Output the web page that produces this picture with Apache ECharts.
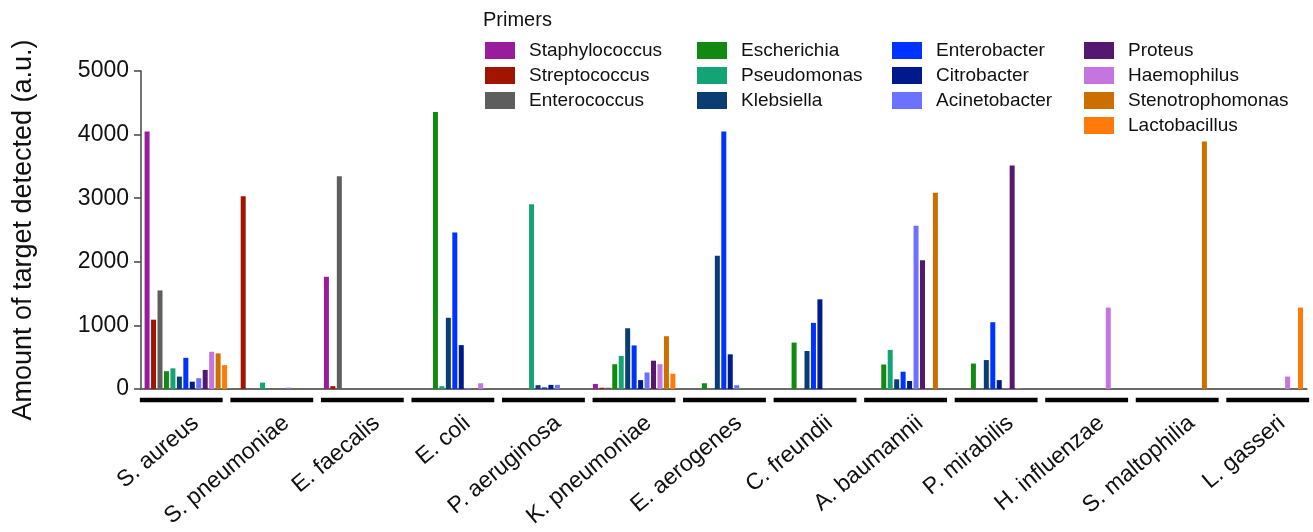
<!DOCTYPE html>
<html>
<head>
<meta charset="utf-8">
<script src="https://cdn.jsdelivr.net/npm/echarts@6/dist/echarts.min.js"></script>
<style>
html,body{margin:0;padding:0;background:#fff;}
#chart{width:1313px;height:532px;}
</style>
</head>
<body>
<div id="chart"></div>
<script>
const categories = ['S. aureus','S. pneumoniae','E. faecalis','E. coli','P. aeruginosa','K. pneumoniae','E. aerogenes','C. freundii','A. baumannii','P. mirabilis','H. influenzae','S. maltophilia','L. gasseri'];
const yTicks = [0, 1000, 2000, 3000, 4000, 5000];

const primerNames = ['Staphylococcus','Streptococcus','Enterococcus','Escherichia','Pseudomonas','Klebsiella','Enterobacter','Citrobacter','Acinetobacter','Proteus','Haemophilus','Stenotrophomonas','Lactobacillus'];
const primerColors = ['#991c9c','#a01400','#5e5e5e','#128a12','#14a374','#0a3d73','#0033ff','#001a8c','#6b72ff','#54186e','#c674e0','#cc6e00','#ff7a0a'];

const staphylococcus   = [4050, 0, 1765, 0, 0, 80, 0, 0, 0, 0, 0, 0, 0];
const streptococcus    = [1090, 3030, 45, 0, 0, 20, 0, 0, 0, 0, 0, 0, 0];
const enterococcus     = [1550, 0, 3345, 0, 0, 20, 0, 0, 0, 0, 0, 0, 0];
const escherichia      = [280, 0, 0, 4355, 0, 390, 90, 730, 385, 400, 0, 0, 0];
const pseudomonas      = [325, 100, 0, 45, 2905, 520, 0, 0, 615, 0, 0, 0, 0];
const klebsiella       = [195, 0, 0, 1120, 60, 955, 2095, 597, 152, 455, 0, 0, 0];
const enterobacter     = [490, 0, 0, 2460, 25, 685, 4050, 1040, 272, 1050, 0, 0, 0];
const citrobacter      = [115, 0, 0, 690, 65, 140, 545, 1410, 126, 140, 0, 0, 0];
const acinetobacter    = [170, 20, 0, 15, 65, 260, 60, 10, 2565, 10, 0, 0, 0];
const proteus          = [300, 0, 0, 0, 0, 445, 0, 0, 2025, 3515, 0, 0, 0];
const haemophilus      = [585, 0, 0, 90, 0, 390, 0, 0, 0, 10, 1280, 0, 195];
const stenotrophomonas = [560, 0, 0, 0, 0, 830, 0, 0, 3085, 0, 0, 3890, 0];
const lactobacillus    = [375, 0, 0, 0, 0, 240, 0, 0, 0, 0, 0, 0, 1280];

const seriesValues = [staphylococcus, streptococcus, enterococcus, escherichia, pseudomonas, klebsiella, enterobacter, citrobacter, acinetobacter, proteus, haemophilus, stenotrophomonas, lactobacillus];

const FONT = 'Liberation Sans, Arial, Helvetica, sans-serif';
const chart = echarts.init(document.getElementById('chart'), null, {renderer: 'canvas'});

const barSeries = primerNames.map((n, i) => ({
  name: n,
  type: 'bar',
  xAxisIndex: 0,
  yAxisIndex: 0,
  data: seriesValues[i],
  itemStyle: {color: primerColors[i]},
  barGap: '29%',
  barCategoryGap: '8%',
  silent: true
}));

const segSeries = {
  name: 'groupSegments',
  type: 'custom',
  xAxisIndex: 1,
  yAxisIndex: 1,
  clip: false,
  silent: true,
  data: categories.map((c, i) => [i, 0]),
  renderItem: function (params, api) {
    const c = api.coord([api.value(0), 0]);
    const w = api.size([1, 0])[0] * 0.915;
    return {
      type: 'line',
      shape: {x1: c[0] - w / 2, y1: c[1] + 11, x2: c[0] + w / 2, y2: c[1] + 11},
      style: {stroke: '#000', lineWidth: 4.5}
    };
  }
};

function legendCol(names, left) {
  return {
    orient: 'vertical',
    left: left,
    top: 41,
    padding: 0,
    itemWidth: 30,
    itemHeight: 17,
    itemGap: 6,
    icon: 'rect',
    selectedMode: false,
    data: names,
    textStyle: {fontFamily: FONT, fontSize: 19, color: '#111', lineHeight: 17, padding: [0, 0, 0, 9]}
  };
}

const option = {
  animation: false,
  backgroundColor: '#fff',
  title: {
    text: 'Primers',
    left: 483,
    top: 10,
    padding: 0,
    textStyle: {fontFamily: FONT, fontSize: 20, fontWeight: 'normal', color: '#111'}
  },
  legend: [
    legendCol(primerNames.slice(0, 3), 485),
    legendCol(primerNames.slice(3, 6), 697),
    legendCol(primerNames.slice(6, 9), 892),
    legendCol(primerNames.slice(9, 13), 1084)
  ],
  grid: [
    {left: 141, right: 6.4, top: 71, bottom: 143},
    {left: 136, right: -2, top: 71, bottom: 143}
  ],
  xAxis: [
    {
      type: 'category', gridIndex: 0, data: categories,
      axisLine: {show: true, lineStyle: {color: '#6a6a6a', width: 2}},
      axisTick: {show: false},
      axisLabel: {show: false},
      splitLine: {show: false}
    },
    {
      type: 'category', gridIndex: 1, data: categories,
      axisLine: {show: false},
      axisTick: {show: false},
      splitLine: {show: false},
      axisLabel: {
        show: true, interval: 0, rotate: 40, margin: 14,
        fontFamily: FONT, fontSize: 23, color: '#111',
        verticalAlign: 'top', padding: [11, 0, 0, 0]
      }
    }
  ],
  yAxis: [
    {
      type: 'value', gridIndex: 0, min: 0, max: 5000, interval: 1000,
      name: 'Amount of target detected (a.u.)',
      nameLocation: 'middle', nameGap: 104,
      nameTextStyle: {fontFamily: FONT, fontSize: 27, color: '#111'},
      axisLine: {show: true, lineStyle: {color: '#444', width: 1.5}},
      axisTick: {show: true, length: 7, lineStyle: {color: '#444', width: 1.5}},
      axisLabel: {fontFamily: FONT, fontSize: 23, color: '#111', margin: 12,
        formatter: v => (yTicks.indexOf(v) >= 0 ? String(v) : '')},
      splitLine: {show: false}
    },
    {
      type: 'value', gridIndex: 1, min: 0, max: 1, show: false
    }
  ],
  series: barSeries.concat([segSeries])
};

chart.setOption(option);
</script>
</body>
</html>
